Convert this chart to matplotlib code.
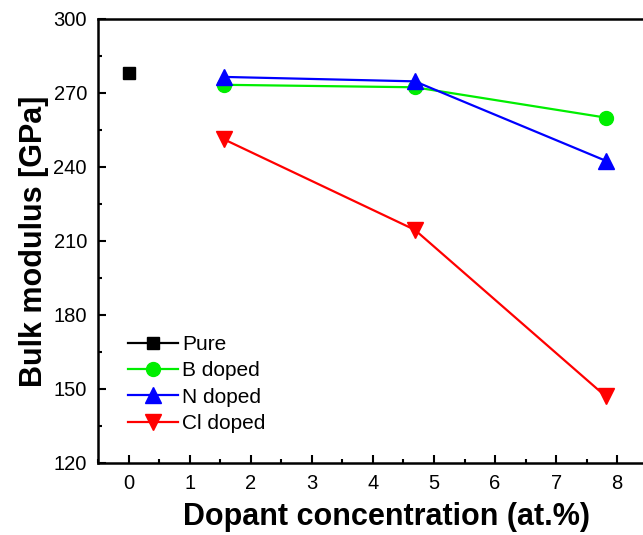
import matplotlib.pyplot as plt
from matplotlib.ticker import MultipleLocator

plt.rcParams['font.family'] = ['Liberation Sans', 'DejaVu Sans']

# dopant concentration (at.%)
x_pure = [0]
x_doped = [1.5625, 4.6875, 7.8125]

# bulk modulus (GPa)
pure = [278]
b_doped = [273.3, 272.3, 260]
n_doped = [276.5, 274.7, 242.5]
cl_doped = [251.2, 214.5, 147]

fig = plt.figure(figsize=(6.43, 5.35), dpi=100)
ax = fig.add_axes([0.1524, 0.1346, 0.855, 0.83])

ax.plot(x_pure, pure, 'k-s', ms=9, lw=1.6, label='Pure')
ax.plot(x_doped, b_doped, '-o', color='#00ee00', ms=10, lw=1.6, label='B doped')
ax.plot(x_doped, n_doped, '-^', color='#0000ff', ms=11, lw=1.6, label='N doped')
ax.plot(x_doped, cl_doped, '-v', color='#ff0000', ms=12, lw=1.6, label='Cl doped')

ax.set_xlim(-0.5, 8.5)
ax.set_ylim(120, 300)
ax.xaxis.set_major_locator(MultipleLocator(1))
ax.xaxis.set_minor_locator(MultipleLocator(0.5))
ax.yaxis.set_major_locator(MultipleLocator(30))
ax.yaxis.set_minor_locator(MultipleLocator(15))
ax.tick_params(which='both', direction='in', top=False, right=False, width=1.5, labelsize=14.5)
ax.tick_params(which='major', length=6, pad=8)
ax.tick_params(which='minor', length=3)
for s in ax.spines.values():
    s.set_linewidth(1.8)

ax.set_xlabel('Dopant concentration (at.%)', fontsize=22, fontweight='bold')
ax.xaxis.set_label_coords(0.525, -0.087)
ax.set_ylabel('Bulk modulus [GPa]', fontsize=22, fontweight='bold')
ax.yaxis.set_label_coords(-0.09, 0.5)

ax.legend(loc='upper left', bbox_to_anchor=(0.04, 0.307), frameon=False, fontsize=15,
          handlelength=2.4, handletextpad=0.2, labelspacing=0.35, borderaxespad=0)

fig.savefig('out.png', dpi=100)
